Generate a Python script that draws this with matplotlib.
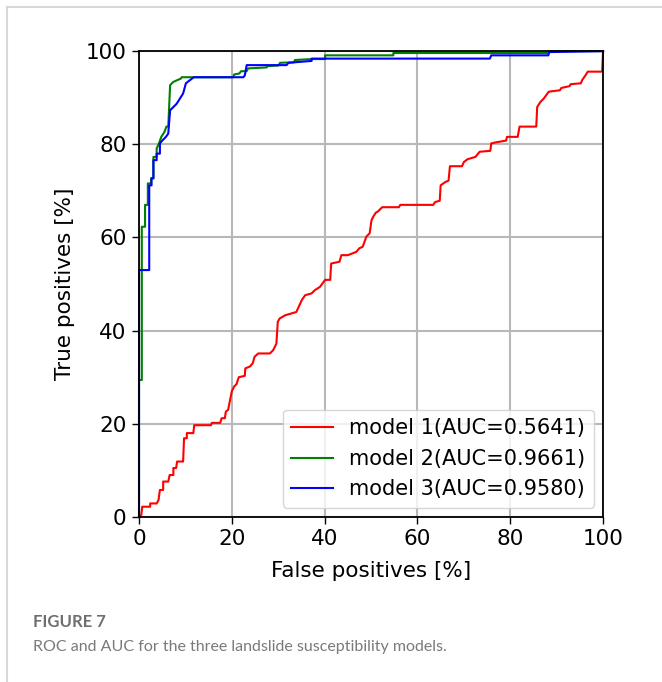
import matplotlib
matplotlib.use("Agg")
import matplotlib.pyplot as plt
from matplotlib.lines import Line2D

# ROC vertices (false positive %, true positive %)
fpr_m1 = [0, 0.5, 0.7, 2.4, 2.4, 3.8, 4.2, 4.5, 5.2, 5.2, 6.3, 6.6, 7.4, 7.4, 8.0, 8.2,
          9.5, 9.7, 10.3, 10.3, 11.7, 11.9, 15.5, 15.7, 17.5, 17.8, 18.5, 18.7, 19.2,
          19.6, 20.0, 20.5, 21.0, 21.5, 22.8, 22.9, 23.9, 24.5, 24.9, 25.7, 28.2, 28.9,
          29.6, 29.9, 30.3, 31.5, 33.9, 35.1, 35.8, 37.2, 37.9, 39.0, 40.1, 41.2, 41.4,
          43.2, 43.6, 45.0, 46.8, 47.5, 48.2, 48.6, 49.0, 49.7, 50.1, 50.5, 51.0, 51.5,
          52.4, 56.0, 56.3, 63.4, 63.8, 64.8, 65.0, 66.0, 66.7, 67.0, 69.6, 70.0, 70.8,
          72.5, 73.4, 75.7, 75.9, 76.8, 79.1, 79.3, 81.6, 82.0, 85.6, 85.8, 86.5, 87.2,
          88.3, 90.7, 91.0, 92.8, 93.0, 95.2, 95.5, 96.2, 96.7, 99.8, 100]
tpr_m1 = [0, 0.5, 2.2, 2.2, 2.9, 2.9, 3.6, 5.8, 5.8, 7.6, 7.6, 9.0, 9.0, 10.5, 10.5, 11.9,
          11.9, 16.9, 16.9, 18.0, 18.0, 19.7, 19.7, 20.2, 20.2, 21.2, 21.2, 22.6, 23.0,
          25.0, 27.0, 28.0, 28.5, 30.0, 30.3, 31.9, 32.3, 33.0, 34.4, 35.1, 35.1, 35.8,
          37.2, 41.9, 42.6, 43.3, 44.0, 46.6, 47.6, 48.0, 48.7, 49.4, 50.9, 50.9, 54.4,
          54.8, 56.2, 56.2, 56.9, 57.7, 58.0, 59.1, 60.2, 60.9, 63.7, 64.5, 65.3, 65.6,
          66.5, 66.5, 67.0, 67.0, 67.6, 67.9, 71.2, 71.9, 72.2, 75.3, 75.3, 76.2, 76.8,
          77.3, 78.4, 78.6, 80.2, 80.4, 80.8, 81.6, 81.6, 83.8, 83.8, 88.0, 89.1, 89.8,
          91.3, 91.6, 92.1, 92.5, 92.9, 93.1, 93.8, 94.8, 95.6, 95.6, 100]

fpr_m2 = [0, 0, 0.6, 0.6, 1.3, 1.3, 1.9, 1.9, 2.6, 2.6, 3.1, 3.1, 3.8, 3.8, 4.3, 4.8,
          5.5, 5.9, 6.3, 6.7, 7.4, 8.3, 9.0, 9.2, 20.3, 20.5, 21.6, 22.0, 23.2, 23.5,
          27.5, 27.7, 30.0, 30.4, 33.4, 33.6, 37.2, 40.1, 40.1, 54.8, 54.8, 88.1, 88.3, 100]
tpr_m2 = [0, 29.4, 29.4, 62.3, 62.3, 67.0, 67.0, 71.6, 71.6, 72.7, 72.7, 77.3, 77.3, 79.1,
          80.2, 81.6, 82.7, 83.8, 83.8, 92.7, 93.4, 93.8, 94.1, 94.4, 94.4, 95.0, 95.2,
          95.7, 95.7, 96.3, 96.5, 96.8, 96.9, 97.5, 97.6, 98.1, 98.3, 98.3, 99.1, 99.1,
          99.6, 99.6, 100, 100]

fpr_m3 = [0, 0, 2.2, 2.2, 2.7, 2.7, 3.1, 3.1, 3.8, 3.8, 4.5, 4.5, 5.1, 5.8, 6.3, 6.7,
          7.4, 8.1, 8.8, 9.5, 10.1, 11.4, 11.8, 22.5, 22.8, 23.2, 31.8, 32.2, 37.2, 37.2,
          75.6, 75.9, 88.2, 88.4, 100]
tpr_m3 = [0, 53.0, 53.0, 71.2, 71.2, 72.7, 72.7, 76.6, 76.6, 78.0, 78.0, 80.2, 80.9,
          81.6, 82.3, 87.3, 88.0, 88.7, 89.8, 90.9, 93.1, 94.1, 94.4, 94.4, 94.8, 97.0,
          97.0, 97.5, 97.9, 98.4, 98.4, 99.1, 99.1, 99.8, 100]

labels = ["model 1(AUC=0.5641)", "model 2(AUC=0.9661)", "model 3(AUC=0.9580)"]
colors = ["red", "green", "blue"]
ticks = [0, 20, 40, 60, 80, 100]

fig = plt.figure(figsize=(6.62, 6.82), dpi=100)
ax = fig.add_axes([0.21, 0.242, 0.701, 0.683])

for xs, ys, lab, c in zip([fpr_m1, fpr_m2, fpr_m3], [tpr_m1, tpr_m2, tpr_m3], labels, colors):
    ax.plot(xs, ys, color=c, lw=1.5, label=lab, clip_on=False)

ax.set_xlim(0, 100)
ax.set_ylim(0, 100)
ax.set_xticks(ticks)
ax.set_yticks(ticks)
ax.tick_params(labelsize=15.5, length=5, width=1, pad=4)
ax.grid(True, color="#b8b8b8", lw=1.5)
ax.set_axisbelow(True)
ax.set_xlabel("False positives [%]", fontsize=15.5, labelpad=8)
ax.set_ylabel("True positives [%]", fontsize=15.5, labelpad=8)
for sp in ax.spines.values():
    sp.set_linewidth(1.3)
ax.legend(loc="lower right", fontsize=15, handlelength=2.0, borderaxespad=0.45)

# page frame and caption
fig.add_artist(Line2D([7 / 662, 1], [1 - 7 / 682, 1 - 7 / 682], color="#d8d8d8", lw=1.5))
fig.add_artist(Line2D([7 / 662, 7 / 662], [0, 1 - 7 / 682], color="#d8d8d8", lw=1.5))
fig.text(33 / 662, 1 - 622 / 682, "FIGURE 7", fontsize=12, color="#6e6e6e",
         family="Lato", weight="bold", va="center")
fig.text(33 / 662, 1 - 647 / 682, "ROC and AUC for the three landslide susceptibility models.",
         fontsize=11.5, color="#7a7a7a", family="Lato", va="center")

fig.savefig("out.png", dpi=100)
